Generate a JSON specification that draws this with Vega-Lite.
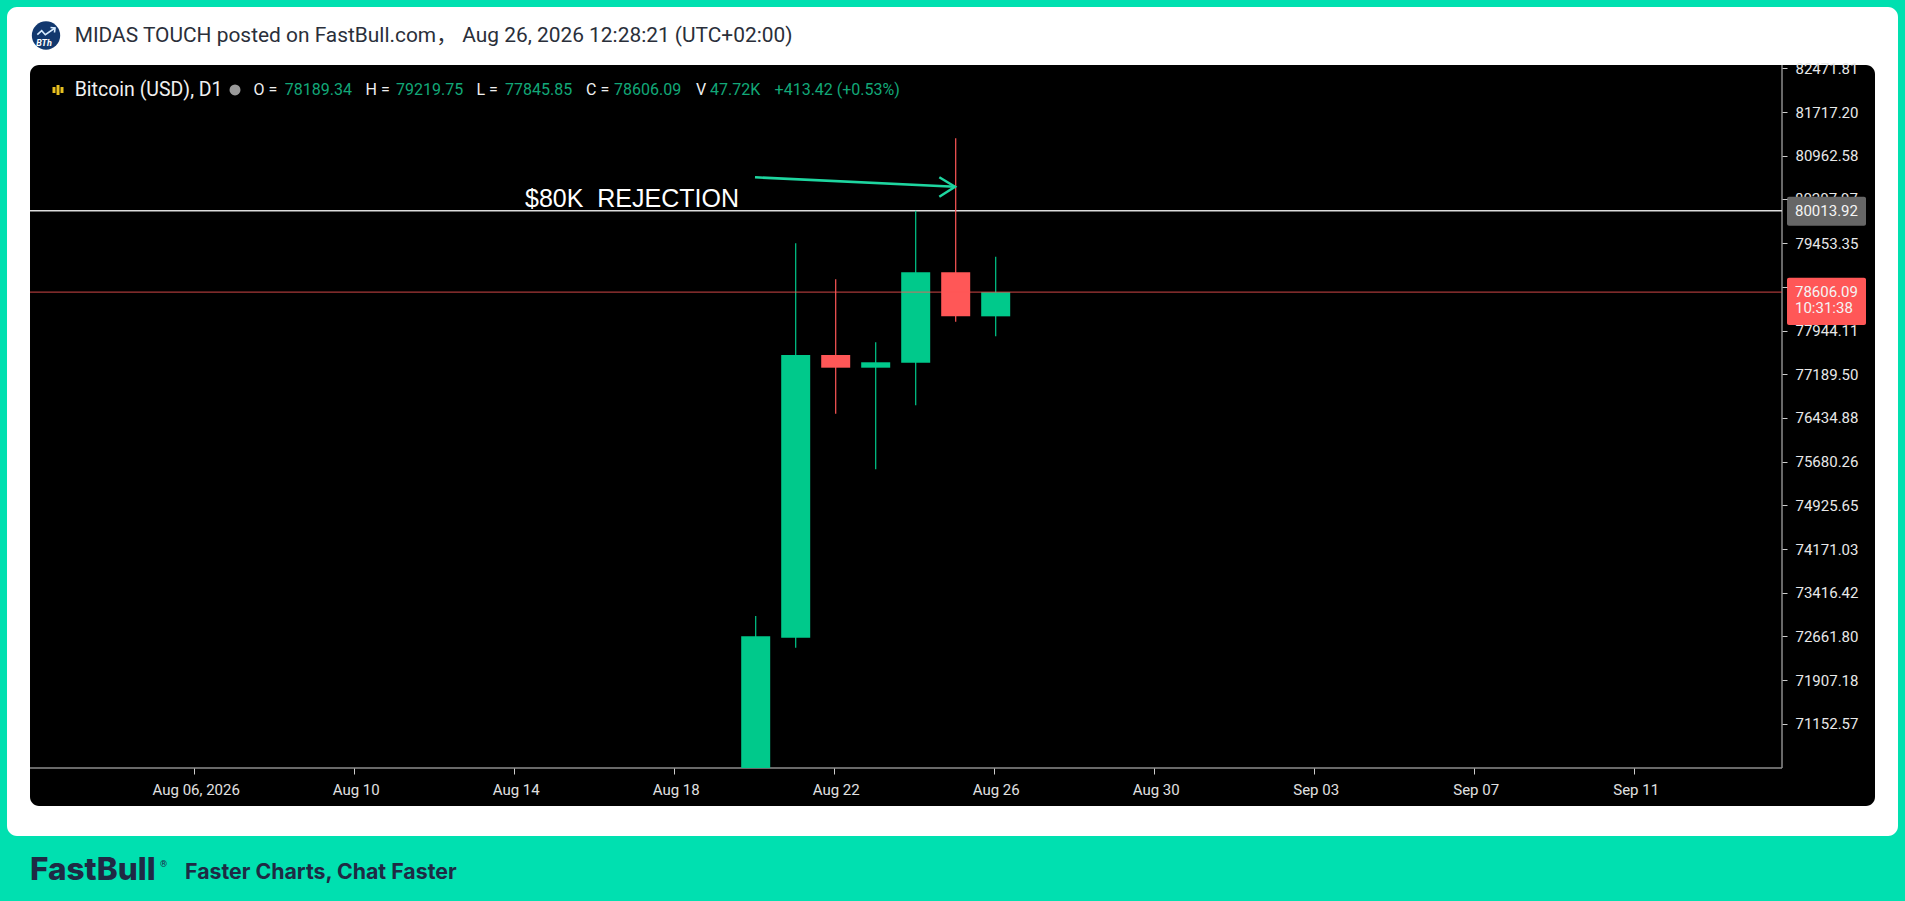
{
  "$schema": "https://vega.github.io/schema/vega-lite/v6.json",
  "width": 1905,
  "height": 901,
  "autosize": "none",
  "padding": 0,
  "background": "#00e0b0",
  "config": {"view": {"stroke": null}, "text": {"font": "Roboto"}},
  "encoding": {
    "x": {
      "field": "date",
      "type": "temporal",
      "title": null,
      "scale": {"type": "utc", "domain": ["2026-08-01T02:34:48Z", "2026-09-17T17:34:48Z"], "padding": 0},
      "axis": {
        "orient": "bottom",
        "offset": -133,
        "zindex": 1,
        "domain": false,
        "grid": false,
        "tickSize": 6,
        "tickColor": "#cccccc",
        "tickOffset": -1.4,
        "labelOffset": 1.4,
        "labelPadding": 8,
        "labelFont": "Roboto",
        "labelFontSize": 15,
        "labelColor": "#e0e0e0",
        "labelOverlap": false,
        "labelExpr": "utcdate(datum.value) == 6 && utcmonth(datum.value) == 7 ? utcFormat(datum.value, '%b %d, %Y') : utcFormat(datum.value, '%b %d')",
        "values": [
          {"year": 2026, "month": "aug", "date": 6, "utc": true},
          {"year": 2026, "month": "aug", "date": 10, "utc": true},
          {"year": 2026, "month": "aug", "date": 14, "utc": true},
          {"year": 2026, "month": "aug", "date": 18, "utc": true},
          {"year": 2026, "month": "aug", "date": 22, "utc": true},
          {"year": 2026, "month": "aug", "date": 26, "utc": true},
          {"year": 2026, "month": "aug", "date": 30, "utc": true},
          {"year": 2026, "month": "sep", "date": 3, "utc": true},
          {"year": 2026, "month": "sep", "date": 7, "utc": true},
          {"year": 2026, "month": "sep", "date": 11, "utc": true}
        ]
      }
    },
    "y": {
      "field": "price",
      "type": "quantitative",
      "title": null,
      "scale": {"domain": [68092, 83652.7], "nice": false, "zero": false},
      "axis": {
        "orient": "right",
        "offset": -123,
        "zindex": 1,
        "domain": false,
        "grid": false,
        "tickSize": 5,
        "tickColor": "#cccccc",
        "labelPadding": 8,
        "labelFont": "Roboto",
        "labelFontSize": 15,
        "labelColor": "#e8e8e8",
        "labelOverlap": false,
        "labelExpr": "datum.value == 80207.97 || datum.value == 78698.73 ? '' : format(datum.value, '.2f')",
        "values": [71152.57, 71907.18, 72661.8, 73416.42, 74171.03, 74925.65, 75680.26, 76434.88, 77189.5, 77944.11, 78698.73, 79453.35, 80207.97, 80962.58, 81717.2, 82471.81]
      }
    }
  },
  "layer": [
    {
      "data": {"values": [{"date": "2026-08-01T06:47:00Z", "date2": "2026-09-17T13:23:00Z", "price": 83531.8, "price2": 69215}]},
      "mark": {"type": "rect", "fill": "#ffffff", "cornerRadius": 10},
      "encoding": {"x2": {"field": "date2"}, "y2": {"field": "price2"}}
    },
    {
      "data": {"values": [{"date": "2026-08-01T20:35:00Z", "date2": "2026-09-16T23:35:00Z", "price": 82530.1, "price2": 69733.1}]},
      "mark": {"type": "rect", "fill": "#000000", "cornerRadius": 9},
      "encoding": {"x2": {"field": "date2"}, "y2": {"field": "price2"}}
    },
    {
      "data": {"values": [{"date": "2026-08-01T20:35:00Z", "date2": "2026-09-14T15:47:00Z", "price": 70389.3}]},
      "mark": {"type": "rule", "stroke": "#8c8c8c", "strokeWidth": 1.5},
      "encoding": {"x2": {"field": "date2"}}
    },
    {
      "data": {"values": [{"date": "2026-09-14T15:47:00Z", "price": 82530.1, "price2": 70389.3}]},
      "mark": {"type": "rule", "stroke": "#8c8c8c", "strokeWidth": 1.5},
      "encoding": {"y2": {"field": "price2"}}
    },
    {
      "data": {"values": [{"date": "2026-08-01T20:35:00Z", "date2": "2026-09-14T15:47:00Z", "price": 80013.92}]},
      "mark": {"type": "rule", "stroke": "#dddddd", "strokeWidth": 1.5},
      "encoding": {"x2": {"field": "date2"}}
    },
    {
      "data": {"name": "candles", "values": [
        {"date": "2026-08-20T00:00:00Z", "open": 70389.3, "high": 73014.4, "low": 70389.3, "close": 72663.8, "direction": "up"},
        {"date": "2026-08-21T00:00:00Z", "open": 72639.6, "high": 79450.9, "low": 72466.9, "close": 77521.8, "direction": "up"},
        {"date": "2026-08-22T00:00:00Z", "open": 77521.8, "high": 78829.2, "low": 76508.1, "close": 77302.5, "direction": "down"},
        {"date": "2026-08-23T00:00:00Z", "open": 77302.5, "high": 77741.2, "low": 75547.9, "close": 77395.8, "direction": "up"},
        {"date": "2026-08-24T00:00:00Z", "open": 77388.9, "high": 80013.92, "low": 76653.2, "close": 78950.1, "direction": "up"},
        {"date": "2026-08-25T00:00:00Z", "open": 78950.1, "high": 81264.2, "low": 78096.9, "close": 78189.34, "direction": "down"},
        {"date": "2026-08-26T00:00:00Z", "open": 78189.34, "high": 79219.75, "low": 77845.85, "close": 78606.09, "direction": "up"}
      ]},
      "mark": {"type": "rule", "strokeWidth": 1.2},
      "encoding": {
        "y": {"field": "high", "type": "quantitative", "scale": {"domain": [68092, 83652.7], "nice": false, "zero": false}, "title": null},
        "y2": {"field": "low"},
        "color": {"field": "direction", "type": "nominal", "legend": null, "scale": {"domain": ["up", "down"], "range": ["#00c98b", "#ff5757"]}}
      }
    },
    {
      "data": {"name": "candles"},
      "mark": {"type": "bar", "size": 29},
      "encoding": {
        "y": {"field": "open", "type": "quantitative", "scale": {"domain": [68092, 83652.7], "nice": false, "zero": false}, "title": null},
        "y2": {"field": "close"},
        "color": {"field": "direction", "type": "nominal", "legend": null, "scale": {"domain": ["up", "down"], "range": ["#00c98b", "#ff5757"]}}
      }
    },
    {
      "data": {"values": [{"date": "2026-08-01T20:35:00Z", "date2": "2026-09-14T15:47:00Z", "price": 78606.09}]},
      "mark": {"type": "rule", "stroke": "#ff5757", "strokeWidth": 1.2, "opacity": 0.65},
      "encoding": {"x2": {"field": "date2"}}
    },
    {
      "data": {"values": [
        {"part": "shaft", "step": 1, "date": "2026-08-19T23:35:00Z", "price": 80590.7},
        {"part": "shaft", "step": 2, "date": "2026-08-24T23:35:00Z", "price": 80428.4},
        {"part": "head", "step": 1, "date": "2026-08-24T14:10:00Z", "price": 80590.7},
        {"part": "head", "step": 2, "date": "2026-08-24T23:35:00Z", "price": 80428.4},
        {"part": "head", "step": 3, "date": "2026-08-24T14:10:00Z", "price": 80255.7}
      ]},
      "mark": {"type": "line", "stroke": "#1ed6a0", "strokeWidth": 2.5},
      "encoding": {"detail": {"field": "part"}, "order": {"field": "step", "type": "quantitative"}}
    },
    {
      "data": {"values": [{"date": "2026-08-14T05:35:00Z", "price": 80215, "label": "$80K\u00a0\u00a0REJECTION"}]},
      "mark": {"type": "text", "font": "Liberation Sans", "fontSize": 25, "align": "left", "baseline": "middle", "fill": "#ffffff"},
      "encoding": {"text": {"field": "label"}}
    },
    {
      "data": {"values": [{"date": "2026-09-14T23:35:00Z", "price": 80207.97, "label": "80207.97"}]},
      "mark": {"type": "text", "fontSize": 15, "align": "left", "baseline": "middle", "fill": "#e8e8e8"},
      "encoding": {"text": {"field": "label"}}
    },
    {
      "data": {"values": [{"date": "2026-09-14T18:47:00Z", "date2": "2026-09-16T18:11:00Z", "price": 80255.7, "price2": 79754.9}]},
      "mark": {"type": "rect", "fill": "#666666", "cornerRadius": 2},
      "encoding": {"x2": {"field": "date2"}, "y2": {"field": "price2"}}
    },
    {
      "data": {"values": [{"date": "2026-09-14T18:47:00Z", "date2": "2026-09-16T18:11:00Z", "price": 78856.8, "price2": 78039.9}]},
      "mark": {"type": "rect", "fill": "#ff5757", "cornerRadius": 2},
      "encoding": {"x2": {"field": "date2"}, "y2": {"field": "price2"}}
    },
    {
      "data": {"values": [
        {"date": "2026-09-14T23:35:00Z", "price": 80013.92, "label": "80013.92"},
        {"date": "2026-09-14T23:35:00Z", "price": 78606.09, "label": "78606.09"},
        {"date": "2026-09-14T23:35:00Z", "price": 78328.4, "label": "10:31:38"}
      ]},
      "mark": {"type": "text", "fontSize": 15, "align": "left", "baseline": "middle", "fill": "#f4f4f4"},
      "encoding": {"text": {"field": "label"}}
    },
    {
      "data": {"values": [
        {"date": "2026-08-02T10:59:00Z", "price": 82150.4, "price2": 82046.4},
        {"date": "2026-08-02T13:23:00Z", "price": 82184.4, "price2": 82012.4},
        {"date": "2026-08-02T15:47:00Z", "price": 82150.4, "price2": 82046.4}
      ]},
      "mark": {"type": "rule", "stroke": "#e8c020", "strokeWidth": 3},
      "encoding": {"y2": {"field": "price2"}}
    },
    {
      "data": {"values": [{"date": "2026-08-06T23:35:00Z", "price": 82098.4}]},
      "mark": {"type": "point", "filled": true, "shape": "circle", "size": 120, "fill": "#9a9a9a", "opacity": 1}
    },
    {
      "data": {"values": [
        {"date": "2026-08-02T23:24:00Z", "price": 82098.4, "label": "Bitcoin (USD), D1"}
      ]},
      "mark": {"type": "text", "fontSize": 19.5, "align": "left", "baseline": "middle", "fill": "#f0f0f0"},
      "encoding": {"text": {"field": "label"}}
    },
    {
      "data": {"values": [
        {"date": "2026-08-07T10:41:00Z", "price": 82098.4, "label": "O ="},
        {"date": "2026-08-10T05:56:00Z", "price": 82098.4, "label": "H ="},
        {"date": "2026-08-13T00:25:00Z", "price": 82098.4, "label": "L ="},
        {"date": "2026-08-15T18:11:00Z", "price": 82098.4, "label": "C ="},
        {"date": "2026-08-18T12:11:00Z", "price": 82098.4, "label": "V"}
      ]},
      "mark": {"type": "text", "fontSize": 16, "align": "left", "baseline": "middle", "fill": "#f0f0f0"},
      "encoding": {"text": {"field": "label"}}
    },
    {
      "data": {"values": [
        {"date": "2026-08-08T05:28:00Z", "price": 82098.4, "label": "78189.34"},
        {"date": "2026-08-11T00:11:00Z", "price": 82098.4, "label": "79219.75"},
        {"date": "2026-08-13T17:35:00Z", "price": 82098.4, "label": "77845.85"},
        {"date": "2026-08-16T10:59:00Z", "price": 82098.4, "label": "78606.09"},
        {"date": "2026-08-18T20:35:00Z", "price": 82098.4, "label": "47.72K"},
        {"date": "2026-08-20T11:20:00Z", "price": 82098.4, "label": "+413.42 (+0.53%)"}
      ]},
      "mark": {"type": "text", "fontSize": 16, "align": "left", "baseline": "middle", "fill": "#12a878"},
      "encoding": {"text": {"field": "label"}}
    },
    {
      "data": {"values": [{"date": "2026-08-02T06:11:00Z", "price": 83040}]},
      "mark": {"type": "point", "filled": true, "shape": "circle", "size": 804, "fill": "#12386e", "opacity": 1}
    },
    {
      "data": {"values": [
        {"part": "trend", "step": 1, "date": "2026-08-02T00:58:00Z", "price": 83053.4},
        {"part": "trend", "step": 2, "date": "2026-08-02T03:36:00Z", "price": 83122.5},
        {"part": "trend", "step": 3, "date": "2026-08-02T05:46:00Z", "price": 83053.4},
        {"part": "trend", "step": 4, "date": "2026-08-02T11:35:00Z", "price": 83169.1},
        {"part": "tip", "step": 1, "date": "2026-08-02T08:53:00Z", "price": 83177.7},
        {"part": "tip", "step": 2, "date": "2026-08-02T11:35:00Z", "price": 83169.1},
        {"part": "tip", "step": 3, "date": "2026-08-02T11:17:00Z", "price": 83091.4}
      ]},
      "mark": {"type": "line", "stroke": "#d8ecff", "strokeWidth": 1.6},
      "encoding": {"detail": {"field": "part"}, "order": {"field": "step", "type": "quantitative"}}
    },
    {
      "data": {"values": [{"date": "2026-08-02T04:59:00Z", "price": 82904.9, "label": "BTh"}]},
      "mark": {"type": "text", "fontSize": 9, "fontWeight": "bold", "fontStyle": "italic", "align": "center", "baseline": "middle", "fill": "#ffffff"},
      "encoding": {"text": {"field": "label"}}
    },
    {
      "data": {"values": [{"date": "2026-08-02T23:24:00Z", "price": 83031, "label": "MIDAS TOUCH posted on FastBull.com， Aug 26, 2026 12:28:21 (UTC+02:00)"}]},
      "mark": {"type": "text", "font": "Roboto, Noto Sans CJK SC", "fontSize": 20.9, "align": "left", "baseline": "middle", "fill": "#2a2f3a"},
      "encoding": {"text": {"field": "label"}}
    },
    {
      "data": {"values": [{"date": "2026-08-01T20:35:00Z", "price": 68610.5, "label": "FastBull"}]},
      "mark": {"type": "text", "font": "Inter", "fontSize": 31.5, "fontWeight": 800, "align": "left", "baseline": "middle", "fill": "#1f2a44"},
      "encoding": {"text": {"field": "label"}}
    },
    {
      "data": {"values": [{"date": "2026-08-05T04:44:00Z", "price": 68731.4, "label": "®"}]},
      "mark": {"type": "text", "fontSize": 9, "align": "center", "baseline": "middle", "fill": "#1f2a44"},
      "encoding": {"text": {"field": "label"}}
    },
    {
      "data": {"values": [{"date": "2026-08-05T17:35:00Z", "price": 68581.2, "label": "Faster Charts, Chat Faster"}]},
      "mark": {"type": "text", "font": "Inter", "fontSize": 21.3, "fontWeight": 700, "align": "left", "baseline": "middle", "fill": "#1f2a44"},
      "encoding": {"text": {"field": "label"}}
    }
  ]
}
